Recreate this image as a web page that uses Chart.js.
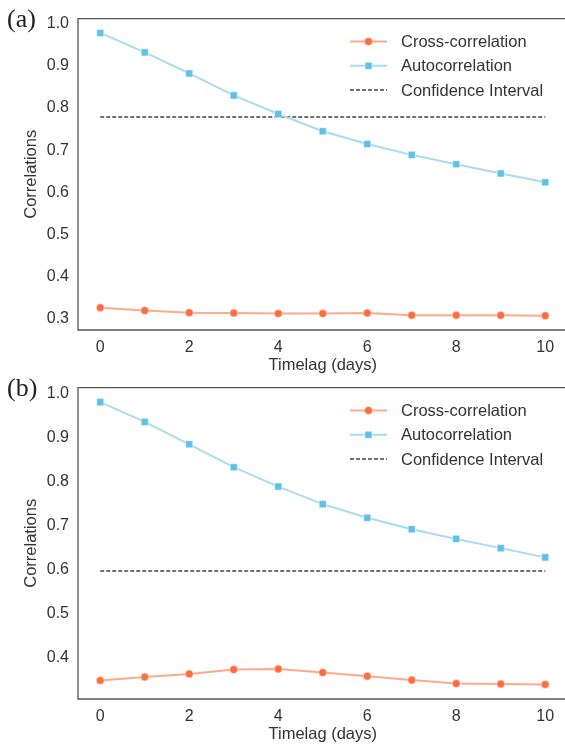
<!DOCTYPE html>
<html>
<head>
<meta charset="utf-8">
<script src="https://cdn.jsdelivr.net/npm/chart.js@4/dist/chart.umd.min.js"></script>
<style>
html, body { margin: 0; padding: 0; background: #fff; overflow: hidden; }
#page { position: relative; width: 565px; height: 748px; overflow: hidden; }
.panel { position: absolute; left: 0; width: 573px; height: 374px; }
.tag { position: absolute; font-family: "Liberation Serif", "Times New Roman", serif; font-size: 26px; line-height: 26px; color: #222; }
</style>
</head>
<body>
<div id="page">
  <div class="panel" style="top:0"><canvas id="chartA" width="573" height="374"></canvas></div>
  <div class="panel" style="top:369px"><canvas id="chartB" width="573" height="374"></canvas></div>
  <div class="tag" style="left:7px;top:6px">(a)</div>
  <div class="tag" style="left:7px;top:375px">(b)</div>
</div>
<script>
// values
var lags = [0, 1, 2, 3, 4, 5, 6, 7, 8, 9, 10];
var crossA = [0.327, 0.320, 0.315, 0.314, 0.313, 0.313, 0.314, 0.309, 0.309, 0.309, 0.308];
var autoA = [0.978, 0.932, 0.882, 0.830, 0.786, 0.745, 0.715, 0.689, 0.667, 0.645, 0.624];
var confA = 0.779;
var crossB = [0.347, 0.355, 0.362, 0.372, 0.373, 0.365, 0.357, 0.348, 0.340, 0.339, 0.338];
var autoB = [0.980, 0.935, 0.884, 0.832, 0.788, 0.748, 0.717, 0.691, 0.669, 0.648, 0.627];
var confB = 0.596;
var xTicks = [0, 2, 4, 6, 8, 10];
var yTicksA = [0.3, 0.4, 0.5, 0.6, 0.7, 0.8, 0.9, 1.0];
var yTicksB = [0.4, 0.5, 0.6, 0.7, 0.8, 0.9, 1.0];
var seriesNames = ['Cross-correlation', 'Autocorrelation', 'Confidence Interval'];

var FONT = '"Liberation Sans", Arial, Helvetica, sans-serif';
var TEXT = '#333';

var spines = {
    id: 'spines',
    afterDatasetsDraw: function (chart) {
        var ctx = chart.ctx, a = chart.chartArea;
        ctx.save();
        ctx.strokeStyle = '#555';
        ctx.lineWidth = 1.3;
        ctx.beginPath();
        ctx.moveTo(a.right, a.bottom);
        ctx.lineTo(a.left, a.bottom);
        ctx.lineTo(a.left, a.top);
        ctx.lineTo(a.right, a.top);
        ctx.stroke();
        ctx.restore();
    }
};

var lineLegend = {
    id: 'lineLegend',
    afterDraw: function (chart) {
        var ctx = chart.ctx;
        var x0 = 350, x1 = 387, tx = 401, y0 = 41.5, dy = 24.3;
        chart.data.datasets.forEach(function (ds, i) {
            var y = y0 + i * dy, xm = (x0 + x1) / 2;
            ctx.save();
            ctx.strokeStyle = ds.borderColor;
            ctx.lineWidth = ds.borderWidth;
            ctx.setLineDash(ds.borderDash || []);
            ctx.beginPath();
            ctx.moveTo(x0, y);
            ctx.lineTo(x1, y);
            ctx.stroke();
            ctx.setLineDash([]);
            if (ds.pointRadius > 0) {
                ctx.fillStyle = ds.pointBackgroundColor;
                ctx.strokeStyle = ds.pointBorderColor;
                ctx.lineWidth = ds.pointBorderWidth;
                ctx.beginPath();
                if (ds.pointStyle === 'rect') {
                    var s = ds.pointRadius * Math.SQRT1_2;
                    ctx.rect(xm - s, y - s, 2 * s, 2 * s);
                } else {
                    ctx.arc(xm, y, ds.pointRadius, 0, Math.PI * 2);
                }
                ctx.fill();
                ctx.stroke();
            }
            ctx.fillStyle = TEXT;
            ctx.font = '16.5px ' + FONT;
            ctx.textBaseline = 'middle';
            ctx.fillText(ds.label, tx, y + 1);
            ctx.restore();
        });
    }
};

function makeChart(id, cross, auto, conf, yMin, yMax, yTicks) {
    var config = {
        type: 'line',
        data: {
            datasets: [{
                label: seriesNames[0],
                data: lags.map(function (x, i) { return {x: x, y: cross[i]}; }),
                borderColor: '#ffa98c',
                borderWidth: 2,
                pointStyle: 'circle',
                pointRadius: 4,
                pointBackgroundColor: '#ff6e40',
                pointBorderColor: '#ffffff',
                pointBorderWidth: 0.5
            }, {
                label: seriesNames[1],
                data: lags.map(function (x, i) { return {x: x, y: auto[i]}; }),
                borderColor: '#a9dcf1',
                borderWidth: 2,
                pointStyle: 'rect',
                pointRadius: 5,
                pointBackgroundColor: '#5ec1ea',
                pointBorderColor: '#ffffff',
                pointBorderWidth: 0.5
            }, {
                label: seriesNames[2],
                data: [{x: lags[0], y: conf}, {x: lags[lags.length - 1], y: conf}],
                borderColor: '#444',
                borderWidth: 1.5,
                borderDash: [4, 2],
                pointRadius: 0
            }]
        },
        options: {
            responsive: false,
            animation: false,
            layout: {padding: {top: 18, right: 1, left: 0, bottom: 0}},
            plugins: {legend: {display: false}, tooltip: {enabled: false}},
            scales: {
                x: {
                    type: 'linear',
                    min: -0.5,
                    max: 10.5,
                    grid: {display: false, drawTicks: false},
                    border: {display: false},
                    afterBuildTicks: function (s) { s.ticks = xTicks.map(function (v) { return {value: v}; }); },
                    afterFit: function (s) { s.height = 44; },
                    ticks: {padding: 8, color: TEXT, font: {family: FONT, size: 16}, maxRotation: 0, autoSkip: false},
                    title: {display: true, text: 'Timelag (days)', color: TEXT,
                        font: {family: FONT, size: 16.5, lineHeight: 1}, padding: {top: 0, bottom: 0}}
                },
                y: {
                    min: yMin,
                    max: yMax,
                    grid: {display: false, drawTicks: false},
                    border: {display: false},
                    afterBuildTicks: function (s) { s.ticks = yTicks.map(function (v) { return {value: v}; }); },
                    afterFit: function (s) { s.width = 78; },
                    ticks: {padding: 9, color: TEXT, font: {family: FONT, size: 16},
                        callback: function (v) { return v.toFixed(1); }},
                    title: {display: true, text: 'Correlations', color: TEXT,
                        font: {family: FONT, size: 16.5, lineHeight: 1}, padding: {top: 22.75, bottom: 0}}
                }
            }
        },
        plugins: [spines, lineLegend]
    };
    return new Chart(document.getElementById(id).getContext('2d'), config);
}

window.onload = function () {
    makeChart('chartA', crossA, autoA, confA, 0.274, 1.012, yTicksA);
    makeChart('chartB', crossB, autoB, confB, 0.305, 1.013, yTicksB);
};
</script>
</body>
</html>
